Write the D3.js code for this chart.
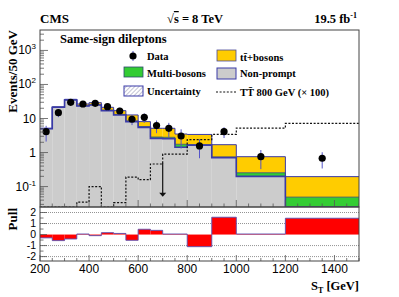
<!DOCTYPE html>
<html>
<head>
<meta charset="utf-8">
<script src="https://cdn.jsdelivr.net/npm/d3@7"></script>
<style>
  body { margin: 0; background: #fff; }
  svg { display: block; }
  .serif { font-family: "Liberation Serif", "DejaVu Serif", serif; font-weight: bold; }
  .sans { font-family: "Liberation Sans", Arial, sans-serif; }
</style>
</head>
<body>
<div id="chart"></div>
<script>
const WIDTH = 399
const HEIGHT = 297

// bin edges in S_T [GeV]
const binEdges = [200, 250, 300, 350, 400, 450, 500, 550, 600, 650, 700, 750, 800, 900, 1000, 1200, 1500]

// stacked backgrounds, events / 50 GeV
const nonPrompt   = [5.0, 21.5, 35.0, 23.3, 24.9, 17.0, 12.7, 8.1, 5.5, 2.6, 2.55, 1.43, 1.65, 0.71, 0.2, 0.001]
const multiBosons = [0.05, 0.1, 0.3, 0.4, 0.5, 0.5, 0.5, 0.4, 0.3, 0.25, 0.25, 0.32, 0.05, 0.03, 0.055, 0.048]
const ttBosons    = [0.15, 0.4, 1.3, 3.0, 3.8, 3.8, 3.8, 4.2, 2.3, 2.3, 2.35, 1.75, 1.7, 0.96, 0.5, 0.147]

// TT 800 GeV signal (x 100)
const signal = [0.02, 0.02, 0.02, 0.035, 0.1, 0.02, 0.034, 0.19, 0.16, 0.46, 0.9, 0.9, 2.4, 3.4, 5.2, 7.2]

// data
const dataY   = [4.1, 14.8, 29.9, 26.7, 27.9, 22.2, 16.6, 9.5, 10.8, 6.2, 5.15, 3.06, 1.56, 4.1, 0.755, 0.68]
const dataErr = [2.0, 3.85, 5.5, 5.2, 5.3, 4.7, 4.1, 3.1, 3.3, 2.5, 2.3, 1.75, 0.88, 1.43, 0.43, 0.34]

// pull per bin
const pull = [-0.3, -0.55, -0.4, 0.05, -0.1, 0.17, 0.1, -0.52, 0.48, 0.38, 0.05, 0.05, -1.1, 1.57, 0.05, 1.48]

// arrow annotation
const arrowX = 700, arrowFrom = 0.49, arrowTo = 0.05

const xTicks = [200, 400, 600, 800, 1000, 1200, 1400]
const yDecades = [0.1, 1, 10, 100, 1000]
const yDecadeLabels = [["10", "-1"], ["1", ""], ["10", ""], ["10", "2"], ["10", "3"]]
const pullTicks = [-2, -1, 0, 1, 2]

const COL_GREY = "#cccccc", COL_GREEN = "#33cc33", COL_YELLOW = "#ffcc00", COL_BLUE = "#3a3aa8"

const x = d3.scaleLinear([200, 1500], [40, 359])
const y = d3.scaleLog([Math.pow(10, -1.6), Math.pow(10, 3.6)], [207, 30]).clamp(true)
const yp = d3.scaleLinear([-2.4, 2.5], [261, 207])

const svg = d3.select("#chart").append("svg")
    .attr("width", WIDTH)
    .attr("height", HEIGHT)

const defs = svg.append("defs")
defs.append("clipPath").attr("id", "clipTop")
    .append("rect").attr("x", 40).attr("y", 30).attr("width", 319).attr("height", 177)
const hatch = defs.append("pattern").attr("id", "hatch")
    .attr("patternUnits", "userSpaceOnUse").attr("width", 3).attr("height", 3)
    .attr("patternTransform", "rotate(45)")
hatch.append("rect").attr("width", 3).attr("height", 3).attr("fill", "#fff")
hatch.append("line").attr("x1", 0).attr("y1", 0).attr("x2", 0).attr("y2", 3)
    .attr("stroke", "#6a6a90").attr("stroke-width", 0.8)

const bins = d3.range(binEdges.length - 1).map(i => {
    const lo0 = nonPrompt[i]
    const lo1 = lo0 + multiBosons[i]
    const lo2 = lo1 + ttBosons[i]
    return {
        x0: binEdges[i], x1: binEdges[i + 1],
        np: lo0, mb: lo1, tot: lo2,
        sig: signal[i], data: dataY[i], err: dataErr[i], pull: pull[i]
    }
})

function stepPoints(acc) {
    const pts = []
    bins.forEach(b => { pts.push([b.x0, acc(b)]); pts.push([b.x1, acc(b)]) })
    return pts
}

const upper = svg.append("g").attr("clip-path", "url(#clipTop)")

// stacked fills
const layers = [
    { lo: b => 1e-4, hi: b => b.np, fill: COL_GREY },
    { lo: b => b.np, hi: b => b.mb, fill: COL_GREEN },
    { lo: b => b.mb, hi: b => b.tot, fill: COL_YELLOW }
]
layers.forEach(l => {
    upper.append("g").selectAll("rect")
        .data(bins)
        .join("rect")
        .attr("x", d => x(d.x0))
        .attr("width", d => x(d.x1) - x(d.x0))
        .attr("y", d => y(l.hi(d)))
        .attr("height", d => Math.max(0, y(l.lo(d)) - y(l.hi(d))))
        .attr("fill", l.fill)
})

const stepLine = d3.line().x(d => x(d[0])).y(d => y(d[1]))

// outlines
upper.append("path").attr("d", stepLine(stepPoints(b => b.mb)))
    .attr("fill", "none").attr("stroke", "#2e4a6e").attr("stroke-width", 0.8)
upper.append("path").attr("d", stepLine(stepPoints(b => b.tot)))
    .attr("fill", "none").attr("stroke", COL_BLUE).attr("stroke-width", 1)
upper.append("path").attr("d", stepLine(stepPoints(b => b.np)))
    .attr("fill", "none").attr("stroke", COL_BLUE).attr("stroke-width", 1.6)

// signal
upper.append("path").attr("d", stepLine(stepPoints(b => b.sig)))
    .attr("fill", "none").attr("stroke", "#111").attr("stroke-width", 1.2)
    .attr("stroke-dasharray", "2,1.6")

// x ticks on upper panel bottom
const minorX = d3.range(200, 1501, 50)
upper.append("g").selectAll("line")
    .data(minorX)
    .join("line")
    .attr("x1", d => x(d)).attr("x2", d => x(d))
    .attr("y1", 207).attr("y2", d => d % 200 === 0 ? 200 : 203.5)
    .attr("stroke", "#555").attr("stroke-width", 0.8)

// arrow
upper.append("line")
    .attr("x1", x(arrowX)).attr("x2", x(arrowX))
    .attr("y1", y(arrowFrom)).attr("y2", y(arrowTo) - 3)
    .attr("stroke", "#111").attr("stroke-width", 1.2)
upper.append("path")
    .attr("d", `M${x(arrowX) - 3.5},${y(arrowTo) - 4}L${x(arrowX) + 3.5},${y(arrowTo) - 4}L${x(arrowX)},${y(arrowTo)}Z`)
    .attr("fill", "#111")

// data points
const pts = upper.append("g").selectAll("g")
    .data(bins)
    .join("g")
pts.append("line")
    .attr("x1", d => x((d.x0 + d.x1) / 2)).attr("x2", d => x((d.x0 + d.x1) / 2))
    .attr("y1", d => y(d.data + d.err)).attr("y2", d => y(Math.max(d.data - d.err, 1e-3)))
    .attr("stroke", "#5555c8").attr("stroke-width", 1)
pts.append("circle")
    .attr("cx", d => x((d.x0 + d.x1) / 2))
    .attr("cy", d => y(d.data))
    .attr("r", 3.6)
    .attr("fill", "#000")

// upper y ticks
const minorY = []
for (let e = -2; e <= 3; e++) for (let m = 1; m < 10; m++) minorY.push(m * Math.pow(10, e))
svg.append("g").selectAll("line")
    .data(minorY.filter(v => v >= y.domain()[0] && v <= y.domain()[1]))
    .join("line")
    .attr("x1", 40).attr("x2", d => yDecades.includes(d) ? 48 : 44)
    .attr("y1", d => y(d)).attr("y2", d => y(d))
    .attr("stroke", "#555").attr("stroke-width", 0.8)

svg.append("rect").attr("x", 40).attr("y", 30).attr("width", 319).attr("height", 177)
    .attr("fill", "none").attr("stroke", "#444").attr("stroke-width", 1)

const yLab = svg.append("g").attr("class", "sans").attr("font-size", 12)
    .selectAll("text")
    .data(yDecades)
    .join("text")
    .attr("x", 36)
    .attr("y", d => y(d) + 4)
    .attr("text-anchor", "end")
yLab.append("tspan").text((d, i) => yDecadeLabels[i][0])
yLab.append("tspan").attr("dy", -5).attr("font-size", 8).text((d, i) => yDecadeLabels[i][1])

// pull panel
const pullG = svg.append("g")
pullG.append("g").selectAll("line")
    .data([-2, -1, 1, 2])
    .join("line")
    .attr("x1", 40).attr("x2", 359)
    .attr("y1", d => yp(d)).attr("y2", d => yp(d))
    .attr("stroke", "#777").attr("stroke-width", 0.8).attr("stroke-dasharray", "1,1")
pullG.append("g").selectAll("rect")
    .data(bins)
    .join("rect")
    .attr("x", d => x(d.x0))
    .attr("width", d => x(d.x1) - x(d.x0))
    .attr("y", d => Math.min(yp(0), yp(d.pull)))
    .attr("height", d => Math.abs(yp(0) - yp(d.pull)))
    .attr("fill", "#ff0000")
const pullLine = d3.line().x(d => x(d[0])).y(d => yp(d[1]))
pullG.append("path").attr("d", pullLine(stepPoints(b => b.pull)))
    .attr("fill", "none").attr("stroke", "#5a4fb0").attr("stroke-width", 0.9)

pullG.append("g").selectAll("line")
    .data(minorX)
    .join("line")
    .attr("x1", d => x(d)).attr("x2", d => x(d))
    .attr("y1", 261).attr("y2", d => d % 200 === 0 ? 255 : 258)
    .attr("stroke", "#555").attr("stroke-width", 0.8)
pullG.append("g").selectAll("line")
    .data(d3.range(-2, 2.01, 0.5))
    .join("line")
    .attr("x1", 40).attr("x2", d => Number.isInteger(d) ? 47 : 43.5)
    .attr("y1", d => yp(d)).attr("y2", d => yp(d))
    .attr("stroke", "#555").attr("stroke-width", 0.8)
pullG.append("rect").attr("x", 40).attr("y", 207).attr("width", 319).attr("height", 54)
    .attr("fill", "none").attr("stroke", "#444").attr("stroke-width", 1)

svg.append("g").attr("class", "sans").attr("font-size", 10.5)
    .selectAll("text")
    .data(pullTicks)
    .join("text")
    .attr("x", 36)
    .attr("y", d => yp(d) + 3.8)
    .attr("text-anchor", "end")
    .text(d => d)

svg.append("g").attr("class", "sans").attr("font-size", 12)
    .selectAll("text")
    .data(xTicks)
    .join("text")
    .attr("x", d => x(d))
    .attr("y", 273)
    .attr("text-anchor", "middle")
    .text(d => d)

// titles
const xt = svg.append("text").attr("class", "serif").attr("font-size", 12.5)
    .attr("x", 359).attr("y", 290).attr("text-anchor", "end")
xt.append("tspan").text("S")
xt.append("tspan").attr("font-size", 8).attr("dy", 3).text("T")
xt.append("tspan").attr("dy", -3).text(" [GeV]")

svg.append("text").attr("class", "serif").attr("font-size", 13)
    .attr("transform", "translate(17,30) rotate(-90)")
    .attr("text-anchor", "end")
    .text("Events/50 GeV")
svg.append("text").attr("class", "serif").attr("font-size", 13)
    .attr("transform", "translate(17,208) rotate(-90)")
    .attr("text-anchor", "end")
    .text("Pull")

svg.append("text").attr("class", "serif").attr("font-size", 13)
    .attr("x", 40).attr("y", 23).text("CMS")
const sq = svg.append("text").attr("class", "serif").attr("font-size", 12.5)
    .attr("x", 167).attr("y", 23)
sq.append("tspan").text("\u221A")
sq.append("tspan").attr("text-decoration", "overline").text("s")
sq.append("tspan").text(" = 8 TeV")
const lumi = svg.append("text").attr("class", "serif").attr("font-size", 12.5)
    .attr("x", 357).attr("y", 23).attr("text-anchor", "end")
lumi.append("tspan").text("19.5 fb")
lumi.append("tspan").attr("font-size", 8).attr("dy", -5).text("-1")

svg.append("text").attr("class", "serif").attr("font-size", 12.5)
    .attr("x", 60).attr("y", 43).text("Same-sign dileptons")

// legend
const leg = svg.append("g").attr("class", "serif").attr("font-size", 10.5)
leg.append("line").attr("x1", 133).attr("x2", 133).attr("y1", 51).attr("y2", 61)
    .attr("stroke", "#5555c8")
leg.append("circle").attr("cx", 133).attr("cy", 56).attr("r", 3.6).attr("fill", "#000")
leg.append("text").attr("x", 147).attr("y", 60).text("Data")

leg.append("rect").attr("x", 124).attr("y", 67).attr("width", 19).attr("height", 10)
    .attr("fill", COL_GREEN).attr("stroke", "#2e4a6e").attr("stroke-width", 0.8)
leg.append("text").attr("x", 147).attr("y", 77).text("Multi-bosons")

leg.append("rect").attr("x", 124).attr("y", 86).attr("width", 19).attr("height", 10)
    .attr("fill", "url(#hatch)").attr("stroke", COL_BLUE).attr("stroke-width", 1)
leg.append("text").attr("x", 147).attr("y", 95).text("Uncertainty")

leg.append("rect").attr("x", 217).attr("y", 50).attr("width", 19).attr("height", 11)
    .attr("fill", COL_YELLOW).attr("stroke", "#4a4a9a").attr("stroke-width", 0.8)
leg.append("text").attr("x", 240).attr("y", 61).text("t\u0074\u0304+bosons")

leg.append("rect").attr("x", 217).attr("y", 68).attr("width", 19).attr("height", 11)
    .attr("fill", COL_GREY).attr("stroke", COL_BLUE).attr("stroke-width", 1)
leg.append("text").attr("x", 240).attr("y", 77).text("Non-prompt")

leg.append("line").attr("x1", 216).attr("x2", 236).attr("y1", 92).attr("y2", 92)
    .attr("stroke", "#111").attr("stroke-width", 1.2).attr("stroke-dasharray", "2,1.6")
leg.append("text").attr("x", 240).attr("y", 96).text("T\u0054\u0304 800 GeV (\u00D7 100)")
</script>
</body>
</html>
